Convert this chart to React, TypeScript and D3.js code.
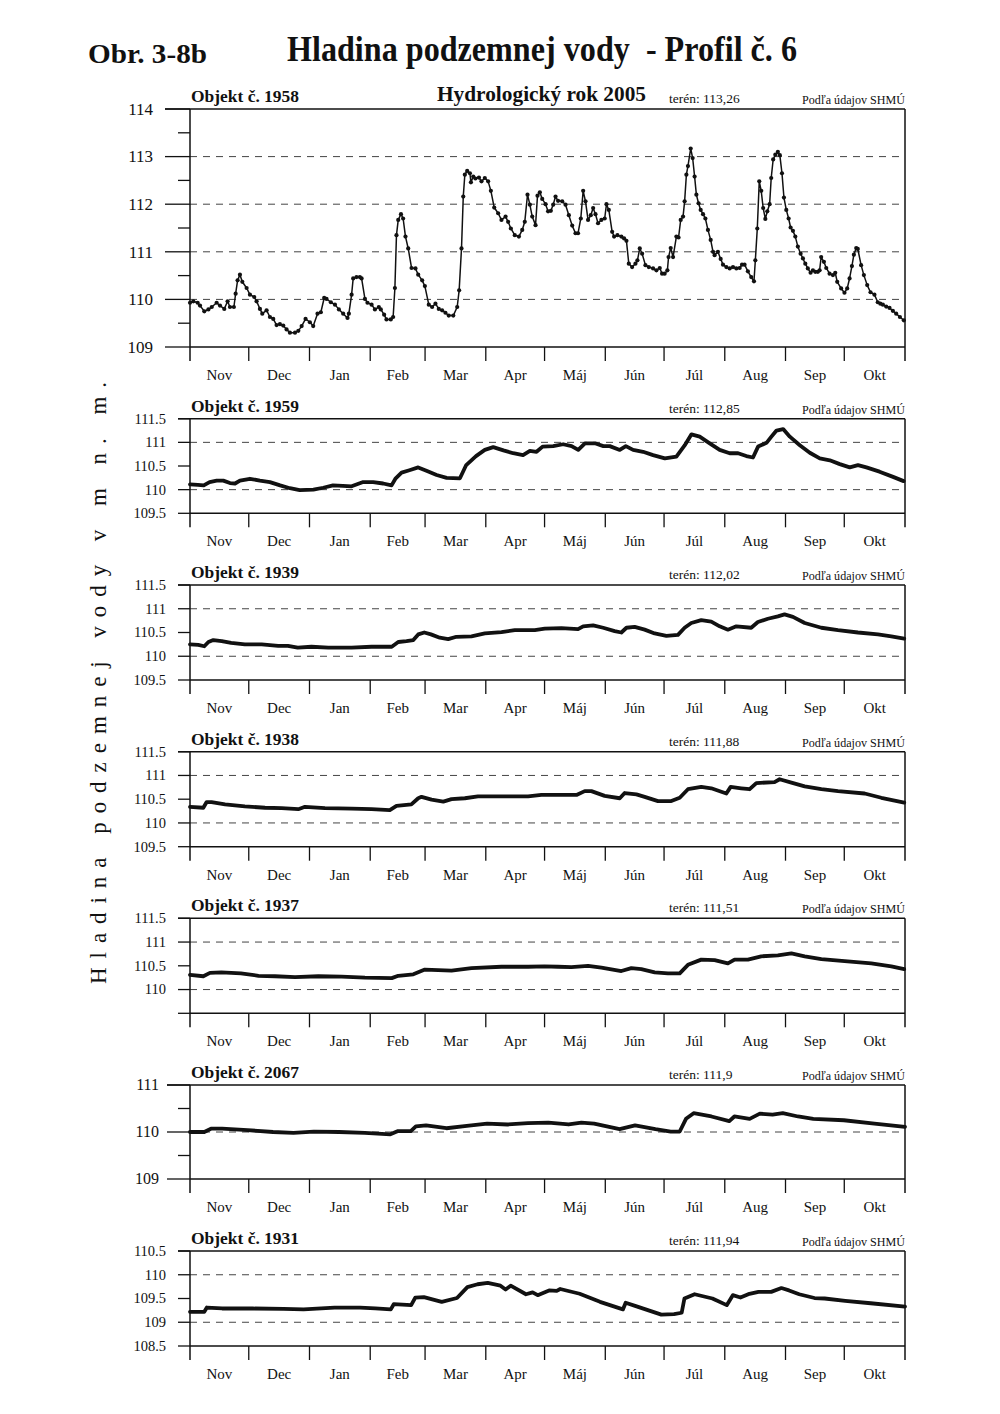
import React from 'react';
import * as d3 from 'd3';

const START = new Date(2004, 10, 1);
const END = new Date(2005, 10, 1);
const monthNames = ['Nov', 'Dec', 'Jan', 'Feb', 'Mar', 'Apr', 'Máj', 'Jún', 'Júl', 'Aug', 'Sep', 'Okt'];

const figLabel = 'Obr. 3-8b';
const mainTitle = 'Hladina podzemnej vody  - Profil č. 6';
const subTitle = 'Hydrologický rok 2005';
const yTitle = 'Hladina podzemnej vody v m n. m.';
const sourceText = 'Podľa údajov SHMÚ';

// [day since 1 Nov 2004, level m n. m.]
const obj1958: [number, number][] = [
  [0, 109.93], [1.7, 109.96], [3.9, 109.93], [5.1, 109.87], [7.3, 109.75], [9.4, 109.79], [11.1, 109.84], [13.6, 109.93],
  [15.3, 109.87], [17.5, 109.8], [19.2, 109.96], [20.4, 109.84], [22.4, 109.84], [23.3, 110.12], [24.3, 110.4], [25.5, 110.52],
  [26.7, 110.37], [28.9, 110.24], [30.6, 110.1], [32.8, 110.05], [34, 109.96], [35.7, 109.8], [36.9, 109.7], [39.1, 109.77],
  [40.8, 109.63], [42.5, 109.59], [44.2, 109.46], [45.9, 109.48], [47.6, 109.45], [49.3, 109.37], [51, 109.3], [53.6, 109.3],
  [55.3, 109.34], [57, 109.44], [59, 109.59], [61.2, 109.52], [62.9, 109.44], [65.1, 109.7], [66.8, 109.73], [68.5, 110.03],
  [69.7, 110.01], [71.9, 109.94], [74, 109.89], [76, 109.79], [78.2, 109.7], [80.4, 109.61], [81.1, 109.7], [82.5, 110.1],
  [83.3, 110.44], [85, 110.47], [86.7, 110.47], [87.6, 110.44], [89.3, 110.01], [90.6, 109.93], [92.7, 109.89], [94.4, 109.79],
  [96.4, 109.84], [97.4, 109.79], [99.1, 109.68], [100.3, 109.58], [102.5, 109.58], [103.7, 109.63], [104.6, 110.24], [105.4, 111.35],
  [106.3, 111.67], [107.7, 111.79], [108.8, 111.7], [110, 111.32], [111.4, 111.07], [113.1, 110.66], [115.1, 110.65], [116.5, 110.52],
  [118.5, 110.4], [119.9, 110.28], [121.9, 109.89], [123.6, 109.84], [125.3, 109.91], [127, 109.8], [128.7, 109.77], [130.4, 109.72],
  [132.1, 109.66], [134.4, 109.66], [136.4, 109.84], [137.4, 110.19], [138.6, 111.07], [139.5, 112.16], [140.3, 112.62], [141.5, 112.7],
  [142.9, 112.65], [143.4, 112.46], [144.6, 112.58], [145.7, 112.54], [147.5, 112.56], [148.8, 112.48], [150.5, 112.55], [152.2, 112.48],
  [153.6, 112.28], [155.3, 111.93], [157.3, 111.81], [159, 111.67], [161.1, 111.74], [162.4, 111.63], [163.8, 111.49], [165.8, 111.35],
  [167.9, 111.32], [169.6, 111.46], [170.9, 111.63], [172.3, 112.2], [173.5, 111.99], [174.7, 111.74], [176.4, 111.56], [177.4, 112.18],
  [178.6, 112.25], [179.8, 112.11], [181.5, 112.0], [182.8, 111.85], [184.2, 111.86], [185.4, 111.99], [186.6, 112.16], [187.9, 112.07],
  [190, 112.06], [191.7, 111.99], [193.4, 111.77], [195.1, 111.55], [196.8, 111.39], [198.1, 111.39], [199.5, 111.7], [200.7, 112.28],
  [201.9, 112.06], [203.2, 111.67], [204.6, 111.77], [205.8, 111.92], [207, 111.79], [208.3, 111.6], [210, 111.67], [211.7, 111.7],
  [212.6, 112.0], [213.8, 111.88], [215.5, 111.42], [216.5, 111.32], [218.2, 111.35], [220.2, 111.32], [221.6, 111.28], [222.8, 111.23],
  [224, 110.75], [225.7, 110.68], [227.4, 110.75], [228.4, 110.82], [229.6, 111.07], [230.8, 110.96], [232.5, 110.72], [234.2, 110.68],
  [236.4, 110.65], [238.1, 110.61], [239.8, 110.66], [241, 110.54], [242.3, 110.54], [243.7, 110.61], [244.3, 110.89], [245.4, 111.08],
  [246.6, 110.89], [248.3, 111.32], [249.4, 111.3], [250.5, 111.67], [251.7, 111.74], [252.5, 112.06], [253.4, 112.62], [254.2, 112.8],
  [255.6, 113.17], [256.6, 112.97], [257.6, 112.58], [258.5, 112.2], [259.6, 112.02], [260.7, 111.88], [261.9, 111.79], [263.1, 111.7],
  [264.4, 111.46], [265.8, 111.25], [267, 111.0], [267.8, 110.93], [269.5, 111.0], [270.9, 110.85], [272.1, 110.73], [273.8, 110.68],
  [275.5, 110.65], [277.2, 110.68], [278.9, 110.65], [280.6, 110.66], [281.8, 110.73], [283.1, 110.73], [284.8, 110.59], [286.5, 110.47],
  [287.9, 110.38], [288.6, 110.82], [289.6, 111.49], [290.6, 112.48], [291.6, 112.28], [292.6, 111.92], [293.7, 111.69], [294.7, 111.85],
  [295.9, 112.0], [296.7, 112.55], [297.7, 112.94], [298.8, 113.04], [300.1, 113.1], [301.1, 113.03], [302.2, 112.65], [303.2, 112.14],
  [304.4, 111.88], [305.6, 111.7], [306.6, 111.51], [307.8, 111.44], [309, 111.32], [310.3, 111.11], [311.7, 110.96], [312.9, 110.86],
  [314.1, 110.75], [315.4, 110.65], [316.8, 110.56], [318, 110.61], [319.2, 110.58], [320.5, 110.58], [321.4, 110.61], [322.2, 110.89],
  [323.6, 110.79], [324.8, 110.66], [326.5, 110.54], [328.2, 110.51], [329.4, 110.56], [330.4, 110.37], [332.4, 110.23], [334.1, 110.14],
  [335.5, 110.23], [336.7, 110.44], [337.9, 110.7], [338.9, 110.94], [340.1, 111.08], [340.9, 111.06], [342.6, 110.72], [344, 110.51],
  [345.7, 110.3], [347.4, 110.15], [349.4, 110.1], [351.1, 109.94], [352.4, 109.91], [353.7, 109.89], [355.4, 109.85], [357.1, 109.82],
  [358.8, 109.76], [360.5, 109.7], [362.4, 109.63], [364.4, 109.56],
];

const obj1959: [number, number][] = [
  [0, 110.11], [4, 110.1], [7, 110.09], [10, 110.16], [13.6, 110.19], [17, 110.19], [20.4, 110.14], [23, 110.13], [25.5, 110.19],
  [30.6, 110.23], [35.7, 110.19], [40.8, 110.16], [46, 110.09], [51, 110.03], [56, 109.99], [63, 110.0], [68, 110.04], [73, 110.09],
  [78, 110.08], [82.5, 110.07], [88.4, 110.16], [93.5, 110.16], [98.6, 110.13], [102.9, 110.09], [105, 110.24], [108, 110.36],
  [112, 110.41], [116.5, 110.47], [120.7, 110.4], [125.9, 110.31], [131, 110.25], [137.8, 110.24], [141, 110.52], [146, 110.71],
  [150.5, 110.84], [154.8, 110.9], [160, 110.83], [165, 110.77], [170, 110.73], [173.5, 110.82], [176.9, 110.8], [180, 110.91],
  [185.4, 110.92], [190.5, 110.96], [194.8, 110.92], [198.2, 110.84], [201.6, 110.98], [206.7, 110.98], [211, 110.92], [214.3, 110.92],
  [219.4, 110.84], [222.5, 110.92], [226.2, 110.84], [231.3, 110.8], [236.4, 110.73], [242.4, 110.66], [248.3, 110.7], [252.6, 110.94],
  [256, 111.17], [260.2, 111.12], [265.3, 110.98], [270.4, 110.84], [275.5, 110.77], [279.8, 110.77], [284, 110.71], [287.4, 110.68],
  [290, 110.91], [294.3, 110.99], [296.8, 111.12], [299.4, 111.25], [302.8, 111.28], [306.2, 111.12], [311.3, 110.94], [316.4, 110.78],
  [321.5, 110.66], [326.6, 110.62], [331.7, 110.54], [336.8, 110.47], [341, 110.52], [345.3, 110.47], [352, 110.38], [358.9, 110.27],
  [364.3, 110.18],
];

const obj1939: [number, number][] = [
  [0, 110.25], [4.2, 110.24], [7.3, 110.21], [9.4, 110.3], [11.9, 110.34], [16.2, 110.32], [21, 110.28], [28, 110.25], [36.6, 110.25],
  [45, 110.22], [50, 110.22], [55, 110.18], [62, 110.2], [70.6, 110.18], [82.5, 110.18], [92.7, 110.2], [103, 110.2], [106.3, 110.3],
  [110.5, 110.32], [114, 110.34], [116.5, 110.46], [119.6, 110.5], [123, 110.46], [127.5, 110.39], [131.8, 110.36], [136, 110.41],
  [143.7, 110.42], [150.5, 110.48], [159, 110.51], [165.8, 110.55], [176, 110.55], [181.1, 110.58], [189.6, 110.59], [198.1, 110.57],
  [200.7, 110.63], [205.8, 110.65], [210.9, 110.6], [216.8, 110.53], [220.2, 110.5], [222.8, 110.6], [227, 110.62], [232.1, 110.56],
  [237.2, 110.48], [243.2, 110.43], [249.1, 110.45], [252.5, 110.6], [255.9, 110.7], [261, 110.76], [266.1, 110.73], [270.4, 110.63],
  [274.6, 110.56], [278.9, 110.63], [286.5, 110.6], [289.9, 110.72], [295, 110.79], [300.1, 110.84], [303.5, 110.88], [307.8, 110.83],
  [313.8, 110.7], [322.3, 110.6], [330.8, 110.55], [341, 110.5], [351.2, 110.46], [358, 110.42], [364.6, 110.37],
];

const obj1938: [number, number][] = [
  [0, 110.34], [6.8, 110.32], [8.5, 110.44], [11, 110.44], [17.9, 110.39], [28, 110.35], [38.3, 110.32], [46.8, 110.31], [55.3, 110.29],
  [58.7, 110.34], [68.9, 110.31], [82.5, 110.3], [92.7, 110.29], [102, 110.27], [105.4, 110.36], [113, 110.39], [116.5, 110.52],
  [118.2, 110.55], [123.3, 110.49], [129.3, 110.45], [133.5, 110.5], [140.3, 110.52], [147, 110.56], [159, 110.56], [172.6, 110.56],
  [179.4, 110.59], [181, 110.59], [197.3, 110.59], [201.5, 110.67], [204.9, 110.67], [211.7, 110.57], [219.4, 110.52], [221.9, 110.63],
  [227.9, 110.6], [232.1, 110.55], [238.9, 110.46], [245.7, 110.46], [250, 110.53], [254.2, 110.71], [261, 110.76], [266.1, 110.73],
  [273.8, 110.62], [276, 110.76], [281.4, 110.73], [285.7, 110.71], [289.1, 110.84], [298.4, 110.86], [301, 110.92], [307, 110.85],
  [313.8, 110.77], [322.3, 110.71], [330.8, 110.67], [344.4, 110.62], [352.9, 110.53], [364.6, 110.43],
];

const obj1937: [number, number][] = [
  [0, 110.31], [6.8, 110.28], [10.2, 110.35], [16, 110.36], [26, 110.34], [35, 110.29], [43.4, 110.28], [53.6, 110.26], [65.5, 110.28],
  [77.4, 110.27], [89.3, 110.25], [103, 110.24], [106.3, 110.29], [114, 110.32], [119.9, 110.42], [126.7, 110.41], [133.5, 110.4],
  [143.7, 110.45], [159, 110.48], [172.6, 110.48], [181, 110.49], [187.9, 110.48], [194.7, 110.47], [203.2, 110.5], [210, 110.46],
  [220.2, 110.39], [225.3, 110.45], [230.4, 110.43], [237.2, 110.36], [244, 110.34], [250, 110.34], [254.2, 110.52], [261, 110.63],
  [267.8, 110.62], [274.6, 110.55], [278, 110.63], [284.8, 110.63], [291.6, 110.7], [300.1, 110.72], [307, 110.76], [313.8, 110.7],
  [322.3, 110.64], [334.2, 110.6], [347.8, 110.55], [358, 110.49], [364.6, 110.43],
];

const obj2067: [number, number][] = [
  [0, 110.0], [7.3, 110.0], [10.7, 110.07], [16.4, 110.07], [29.4, 110.04], [42.4, 110.0], [52.8, 109.98], [63.2, 110.01], [76.2, 110.0],
  [89.2, 109.98], [102.3, 109.95], [106.2, 110.02], [112.7, 110.02], [115.3, 110.12], [120.5, 110.14], [130.9, 110.08], [141.3, 110.13],
  [151.7, 110.18], [162.1, 110.16], [172.5, 110.19], [182.9, 110.2], [193.3, 110.16], [199.8, 110.2], [206.3, 110.18], [219.3, 110.06],
  [227.2, 110.14], [237.6, 110.06], [245.4, 110.01], [250, 110.01], [253.2, 110.28], [257.1, 110.4], [266.2, 110.33], [275.3, 110.23],
  [277.9, 110.33], [285.7, 110.28], [290.9, 110.39], [297.4, 110.37], [302.6, 110.4], [310.4, 110.33], [318.2, 110.28], [333.8, 110.25],
  [349.4, 110.18], [365, 110.11],
];

const obj1931: [number, number][] = [
  [0, 109.22], [7.3, 109.22], [8.6, 109.31], [16.4, 109.29], [32, 109.29], [47.7, 109.28], [58, 109.27], [73.8, 109.31], [86.8, 109.31],
  [94.6, 109.29], [102.5, 109.27], [104, 109.38], [112.9, 109.36], [115, 109.52], [119.4, 109.53], [128.5, 109.43], [136.3, 109.51],
  [141.6, 109.74], [146.8, 109.8], [152, 109.83], [158.5, 109.77], [161.1, 109.69], [163.7, 109.77], [171.5, 109.59], [174.9, 109.63],
  [177.5, 109.57], [183.3, 109.67], [187.2, 109.66], [189, 109.7], [198.9, 109.6], [209.3, 109.43], [221, 109.27], [222.4, 109.41],
  [227.6, 109.34], [240.6, 109.16], [247.1, 109.17], [251, 109.2], [252.4, 109.5], [257.6, 109.59], [266.7, 109.5], [274, 109.36],
  [277.1, 109.57], [281, 109.52], [285, 109.59], [290.2, 109.64], [296.7, 109.64], [301.9, 109.72], [305.8, 109.67], [311, 109.59],
  [318.8, 109.51], [324, 109.5], [334.5, 109.45], [347.5, 109.4], [365, 109.33],
];

const objIds = ['1958', '1959', '1939', '1938', '1937', '2067', '1931'];
const terrains = ['113,26', '112,85', '112,02', '111,88', '111,51', '111,9', '111,94'];
const series = [obj1958, obj1959, obj1939, obj1938, obj1937, obj2067, obj1931];
const domains: [number, number][] = [[109, 114], [109.5, 111.5], [109.5, 111.5], [109.5, 111.5], [109.5, 111.5], [109, 111], [108.5, 110.5]];
const tickValues = [
  [109, 110, 111, 112, 113, 114],
  [109.5, 110, 110.5, 111, 111.5],
  [109.5, 110, 110.5, 111, 111.5],
  [109.5, 110, 110.5, 111, 111.5],
  [109.5, 110, 110.5, 111, 111.5],
  [109, 110, 111],
  [108.5, 109, 109.5, 110, 110.5],
];
const labelValues = [
  [109, 110, 111, 112, 113, 114],
  [109.5, 110, 110.5, 111, 111.5],
  [109.5, 110, 110.5, 111, 111.5],
  [109.5, 110, 110.5, 111, 111.5],
  [110, 110.5, 111, 111.5],
  [109, 110, 111],
  [108.5, 109, 109.5, 110, 110.5],
];
const minorValues = [
  [109.5, 110.5, 111.5, 112.5, 113.5],
  [], [], [], [],
  [109.5, 110.5],
  [],
];
const gridValues = [
  [110, 111, 112, 113],
  [110, 111], [110, 111], [110, 111], [110, 111],
  [110],
  [109, 110],
];

// layout
const X0 = 190;
const X1 = 905;
const panelTops = [109, 418.7, 585, 751.7, 918.3, 1085, 1251];
const panelBottoms = [347, 513.3, 680, 846.7, 1013.3, 1179, 1346];
const FONT = '"Liberation Serif", "Times New Roman", serif';

const dayToDate = (d: number) => new Date(START.getTime() + d * 86400000);

function Panel({ idx }: { idx: number }) {
  const top = panelTops[idx];
  const bottom = panelBottoms[idx];
  const x = d3.scaleTime().domain([START, END]).range([X0, X1]);
  const y = d3.scaleLinear().domain(domains[idx]).range([bottom, top]);
  const data = series[idx];
  const line = d3
    .line<[number, number]>()
    .x((p) => x(dayToDate(p[0])))
    .y((p) => y(p[1]));
  const months = d3.timeMonth.range(START, END).concat([END]);
  const isFirst = idx === 0;
  const majorStart = isFirst ? 165 : idx === 5 ? 167 : 178;
  const labelX = isFirst ? 153 : idx === 5 ? 159 : 166;
  const labelSize = isFirst ? 17 : idx === 5 ? 16 : 14.5;
  const tickLen = 14;
  return (
    <g>
      {gridValues[idx].map((v) => (
        <line key={'g' + v} x1={X0} x2={X1} y1={y(v)} y2={y(v)} stroke="#444" strokeWidth={1} strokeDasharray="7,6" />
      ))}
      {tickValues[idx].map((v) => (
        <line key={'t' + v} x1={majorStart} x2={X0} y1={y(v)} y2={y(v)} stroke="#111" strokeWidth={1.3} />
      ))}
      {minorValues[idx].map((v) => (
        <line key={'m' + v} x1={178} x2={X0} y1={y(v)} y2={y(v)} stroke="#111" strokeWidth={1.3} />
      ))}
      {labelValues[idx].map((v) => (
        <text key={'l' + v} x={labelX} y={y(v) + labelSize * 0.34} textAnchor="end" fontSize={labelSize} fontFamily={FONT} fill="#111">
          {String(v)}
        </text>
      ))}
      <line x1={majorStart} x2={X1} y1={top} y2={top} stroke="#111" strokeWidth={1.5} />
      <line x1={X0} x2={X1} y1={bottom} y2={bottom} stroke="#111" strokeWidth={1.5} />
      <line x1={X0} x2={X0} y1={top} y2={bottom + tickLen} stroke="#111" strokeWidth={1.5} />
      <line x1={X1} x2={X1} y1={top} y2={bottom + tickLen} stroke="#111" strokeWidth={1.5} />
      {months.slice(1, -1).map((m) => (
        <line key={'mt' + m.getTime()} x1={x(m)} x2={x(m)} y1={bottom} y2={bottom + tickLen} stroke="#111" strokeWidth={1.3} />
      ))}
      {months.slice(0, -1).map((m, i) => (
        <text
          key={'ml' + i}
          x={(x(m) + x(months[i + 1])) / 2}
          y={bottom + 33}
          textAnchor="middle"
          fontSize={15}
          fontFamily={FONT}
          fill="#111"
        >
          {monthNames[i]}
        </text>
      ))}
      <path
        d={line(data) || ''}
        fill="none"
        stroke="#111"
        strokeWidth={isFirst ? 1.5 : 3.8}
        strokeLinejoin="round"
        strokeLinecap="round"
      />
      {isFirst &&
        data.map((p, i) => <circle key={'c' + i} cx={x(dayToDate(p[0]))} cy={y(p[1])} r={2.1} fill="#111" />)}
      <text x={191} y={top - 7} fontSize={16.5} fontWeight="bold" fontFamily={FONT} fill="#111" textLength={108} lengthAdjust="spacingAndGlyphs">
        {'Objekt č. ' + objIds[idx]}
      </text>
      <text x={669} y={top - 6} fontSize={13.5} fontFamily={FONT} fill="#111">
        {'terén: ' + terrains[idx]}
      </text>
      <text x={802} y={top - 5} fontSize={11.5} fontFamily={FONT} fill="#111" textLength={103} lengthAdjust="spacingAndGlyphs">
        {sourceText}
      </text>
    </g>
  );
}

export default function App() {
  return (
    <svg
      width={1000}
      height={1414}
      viewBox="0 0 1000 1414"
      style={{ position: 'absolute', left: 0, top: 0, background: '#fff', display: 'block' }}
    >
      <rect x={0} y={0} width={1000} height={1414} fill="#fff" />
      <text x={88} y={63} fontSize={27} fontWeight="bold" fontFamily={FONT} fill="#111" textLength={119} lengthAdjust="spacingAndGlyphs">
        {figLabel}
      </text>
      <text
        x={287}
        y={61}
        fontSize={35}
        fontWeight="bold"
        fontFamily={FONT}
        fill="#111"
        textLength={510}
        lengthAdjust="spacingAndGlyphs"
        style={{ whiteSpace: 'pre' }}
      >
        {mainTitle}
      </text>
      <text x={437} y={101} fontSize={21} fontWeight="bold" fontFamily={FONT} fill="#111" textLength={209} lengthAdjust="spacingAndGlyphs">
        {subTitle}
      </text>
      <text
        transform="translate(106, 683) rotate(-90)"
        textAnchor="middle"
        fontSize={23}
        fontFamily={FONT}
        fill="#111"
        textLength={602}
        lengthAdjust="spacing"
      >
        {yTitle}
      </text>
      {series.map((_, i) => (
        <Panel key={i} idx={i} />
      ))}
    </svg>
  );
}
